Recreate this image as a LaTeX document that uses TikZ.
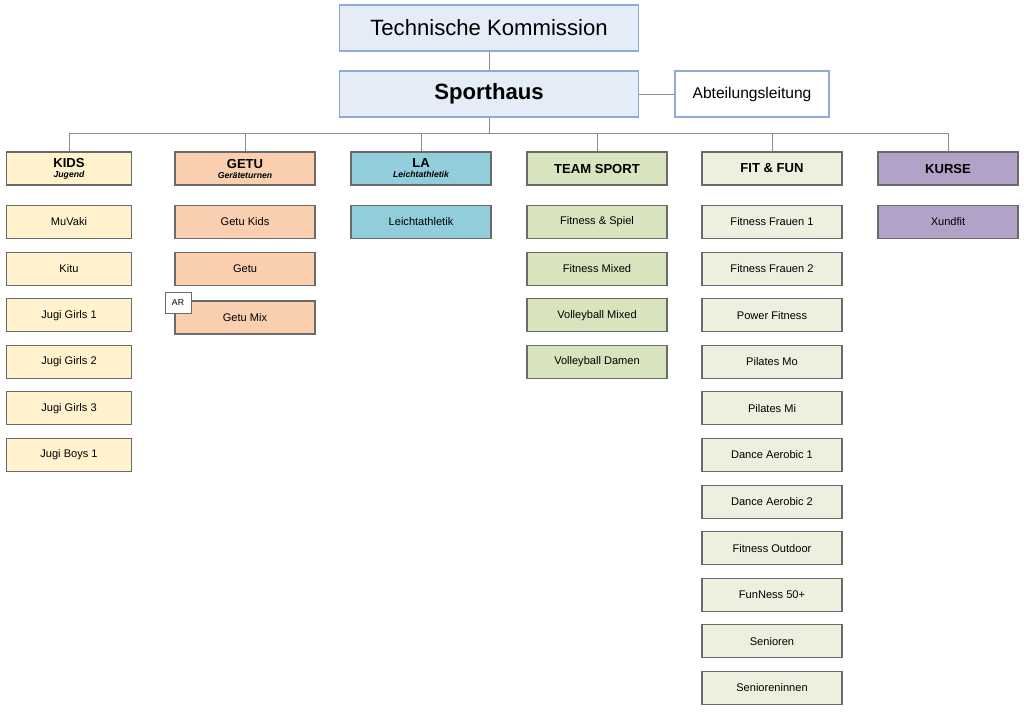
\documentclass[tikz,border=0pt]{standalone}
\usepackage{fontspec}
\setmainfont{Liberation Sans}
\usepackage{tikz}
\definecolor{tkfill}{HTML}{E4ECF7}
\definecolor{tkline}{HTML}{8EAADB}
\definecolor{kidsfill}{HTML}{FFF2CC}
\definecolor{getufill}{HTML}{F9CFB0}
\definecolor{lafill}{HTML}{92CDDC}
\definecolor{teamfill}{HTML}{D7E4BD}
\definecolor{fitfill}{HTML}{EBF1DE}
\definecolor{kursfill}{HTML}{B3A2C7}
\definecolor{boxline}{HTML}{6A6A6A}
\definecolor{wire}{HTML}{8C8C8C}
\newcommand{\deptsub}[1]{{\fontsize{6.5}{7}\selectfont\bfseries\itshape #1}}

\begin{document}
\begin{tikzpicture}[x=0.75pt, y=-0.75pt,
  topbox/.style={draw=tkline, fill=tkfill, line width=0.8pt,
    minimum width=224.25pt, minimum height=34.5pt, inner sep=0pt},
  leadbox/.style={draw=tkline, fill=white, line width=0.8pt,
    minimum width=115.5pt, minimum height=34.5pt, inner sep=0pt, font=\fontsize{11.7}{13}\selectfont},
  unitbox/.style={draw=boxline, line width=0.8pt, minimum width=105pt,
    minimum height=24.75pt, inner sep=0pt, align=center},
  headbox/.style={unitbox, font=\fontsize{9.8}{10}\selectfont\bfseries},
  itembox/.style={unitbox, font=\fontsize{8.3}{10}\selectfont},
  tagbox/.style={draw=boxline, fill=white, line width=0.6pt, minimum width=19.5pt,
    minimum height=15.75pt, inner sep=0pt, font=\fontsize{6.5}{7}\selectfont},
  wire/.style={draw=wire, line width=0.7pt}
  ]
  \useasboundingbox (0,0) rectangle (1024,711);

  % top of the tree
  \node[topbox, font=\fontsize{16.6}{18}\selectfont] (tk) at (489,28) {Technische Kommission};
  \node[topbox, font=\fontsize{16.6}{18}\selectfont\bfseries] (sh) at (489,94) {Sporthaus};
  \node[leadbox] (al) at (752,94) {Abteilungsleitung};
  \coordinate (bus) at (489,133);

  % department heads
  \node[headbox, fill=kidsfill, minimum width=93.75pt] (kids) at (69,168.5)
    {KIDS\\[-2.5pt]\deptsub{Jugend}};
  \node[headbox, fill=getufill] (getu) at (245,168.5)
    {GETU\\[-2.5pt]\deptsub{Ger\"ateturnen}};
  \node[headbox, fill=lafill] (la) at (421,168.5)
    {LA\\[-2.5pt]\deptsub{Leichtathletik}};
  \node[headbox, fill=teamfill] (team) at (597,168.5) {TEAM SPORT};
  \node[headbox, fill=fitfill] (fit) at (772,168.5) {FIT \& FUN};
  \node[headbox, fill=kursfill] (kurse) at (948,168.5) {KURSE};

  % groups
  \foreach \t [count=\i] in {MuVaki, Kitu, Jugi Girls 1, Jugi Girls 2, Jugi Girls 3, Jugi Boys 1}
    \node[itembox, fill=kidsfill, minimum width=93.75pt] (kids-\i) at (69,{222+46.6*(\i-1)}) {\t};
  \foreach \t [count=\i] in {Getu Kids, Getu}
    \node[itembox, fill=getufill] (getu-\i) at (245,{222+46.6*(\i-1)}) {\t};
  \node[itembox, fill=getufill] (getu-3) at (245,317.5) {Getu Mix};
  \node[itembox, fill=lafill] (la-1) at (421,222) {Leichtathletik};
  \foreach \t [count=\i] in {Fitness \& Spiel, Fitness Mixed, Volleyball Mixed, Volleyball Damen}
    \node[itembox, fill=teamfill] (team-\i) at (597,{222+46.6*(\i-1)}) {\t};
  \foreach \t [count=\i] in {Fitness Frauen 1, Fitness Frauen 2, Power Fitness, Pilates Mo,
      Pilates Mi, Dance Aerobic 1, Dance Aerobic 2, Fitness Outdoor, FunNess 50+,
      Senioren, Senioreninnen}
    \node[itembox, fill=fitfill] (fit-\i) at (772,{222+46.6*(\i-1)}) {\t};
  \node[itembox, fill=kursfill] (kurse-1) at (948,222) {Xundfit};

  \node[tagbox] (ar) at (178,302.5) {AR};

  % connectors
  \path[wire]
    (tk) edge (sh)
    (sh) edge (al)
    (sh) edge (bus);
  \foreach \h in {kids,getu,la,team,fit,kurse}
    \draw[wire] (\h.north) |- (bus);
\end{tikzpicture}
\end{document}
